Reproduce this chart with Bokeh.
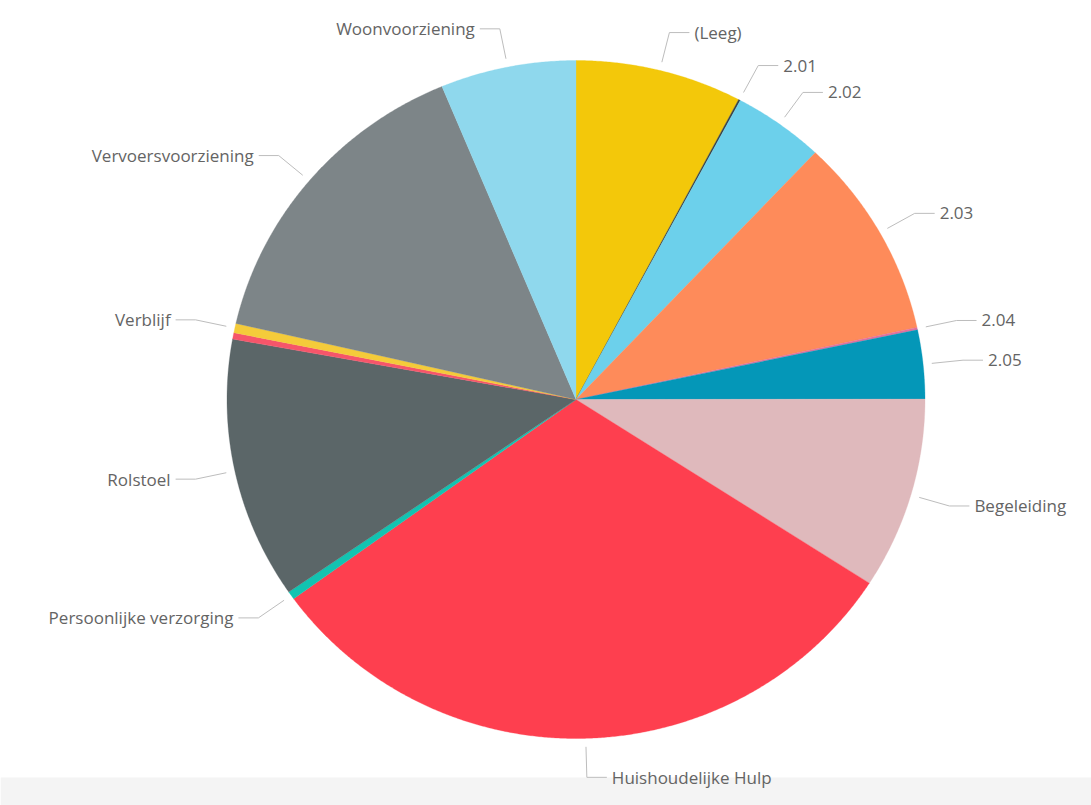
import numpy as np
from bokeh.plotting import figure
from bokeh.models import ColumnDataSource, BoxAnnotation
from bokeh.core.properties import value
from bokeh.embed import file_html
from bokeh.resources import INLINE

categories = ["(Leeg)", "2.01", "2.02", "2.03", "2.04", "2.05", "Begeleiding",
              "Huishoudelijke Hulp", "Persoonlijke verzorging", "Rolstoel", "",
              "Verblijf", "Vervoersvoorziening", "Woonvoorziening"]
values = [278, 3, 152, 345, 4, 118, 329, 1113, 14, 449, 11, 16, 545, 226]
colors = ["#F3C80A", "#3A4547", "#6CD0EB", "#FE8B5A", "#E0719E", "#0497B8", "#DFB9BC",
          "#FE3F4F", "#12C3B1", "#5B6668", "#F6556A", "#F4CB3A", "#7D8588", "#8FD8ED"]

W, H = 1091, 805
CX, CY, RX, RY = 575.5, 399.0, 349.0, 339.0

p = figure(width=W, height=H, output_backend="svg", toolbar_location=None,
           x_range=(-CX / RX, (W - CX) / RX), y_range=((CY - H) / RY, CY / RY),
           min_border=0)
p.axis.visible = False
p.grid.visible = False
p.outline_line_color = None
p.background_fill_color = "white"
p.border_fill_color = "white"

# light band at bottom of the screenshot (under the glyphs)
p.add_layout(BoxAnnotation(top=(CY - 777) / RY, fill_color="#F4F4F4", fill_alpha=1,
                           line_alpha=0, level="underlay"))

vals = np.array(values, dtype=float)
frac = vals / vals.sum()
ends = np.cumsum(frac) * 2 * np.pi
starts = ends - frac * 2 * np.pi

xs, ys = [], []
for a0, a1 in zip(starts, ends):
    n = max(3, int((a1 - a0) / 0.005))
    t = np.linspace(a0, a1, n)
    xs.append(np.concatenate([[0], np.sin(t), [0]]))
    ys.append(np.concatenate([[0], np.cos(t), [0]]))

src = ColumnDataSource(dict(xs=xs, ys=ys, color=colors, cat=categories))
p.patches("xs", "ys", fill_color="color", line_color="color", line_width=0.3, source=src)

# labels with leader lines
hseg = 20.0 / RX
left_x, left_y, left_t = [], [], []
right_x, right_y, right_t = [], [], []
line_xs, line_ys = [], []
for cat, a0, a1 in zip(categories, starts, ends):
    if not cat:
        continue
    m = (a0 + a1) / 2
    sx, sy = 1.025 * np.sin(m), 1.025 * np.cos(m)
    ex, ey = 1.115 * np.sin(m), 1.115 * np.cos(m)
    if np.sin(m) >= -1e-9:
        hx = ex + hseg
        right_x.append(hx); right_y.append(ey); right_t.append(cat)
    else:
        hx = ex - hseg
        left_x.append(hx); left_y.append(ey); left_t.append(cat)
    line_xs.append([sx, ex, hx])
    line_ys.append([sy, ey, ey])

p.multi_line(line_xs, line_ys, line_color="#BDBDBD", line_width=1)
font = value("Open Sans")
p.text(right_x, right_y, text=right_t, x_offset=5, text_align="left", text_baseline="middle",
       text_font=font, text_font_size="17px", text_color="#646464")
p.text(left_x, left_y, text=left_t, x_offset=-5, text_align="right", text_baseline="middle",
       text_font=font, text_font_size="17px", text_color="#646464")

open("out.html", "w").write(file_html(p, INLINE))
